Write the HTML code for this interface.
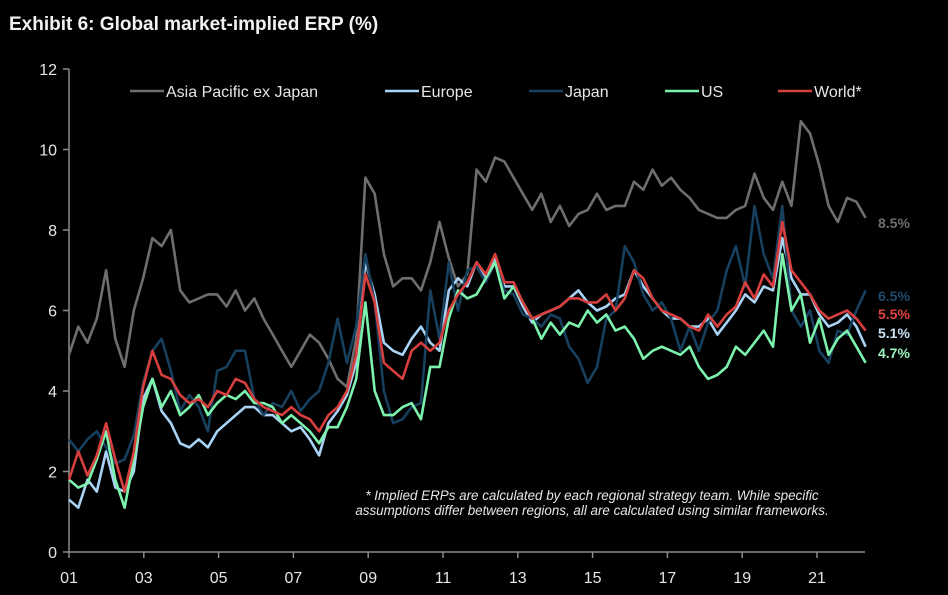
<!DOCTYPE html>
<html><head><meta charset="utf-8"><style>
html,body{margin:0;padding:0;background:#000;}
svg{display:block;font-family:"Liberation Sans",Arial,sans-serif;}
</style></head><body>
<svg id="chart" width="948" height="595" viewBox="0 0 948 595">
<text x="9" y="30" fill="#f2f2f2" font-size="19" font-weight="bold" font-family="'Liberation Sans Narrow','Liberation Sans',sans-serif">Exhibit 6: Global market-implied ERP (%)</text>
<g id="axes"></g>
<g id="lines"></g>
<g id="legend"></g>
<g id="endlabels"></g>
<text x="592" y="500" fill="#e6e6e6" font-size="13.4" font-style="italic" text-anchor="middle">* Implied ERPs are calculated by each regional strategy team. While specific</text>
<text x="592" y="515" fill="#e6e6e6" font-size="13.4" font-style="italic" text-anchor="middle">assumptions differ between regions, all are calculated using similar frameworks.</text>
</svg>
<script>
const yTicks=[0,2,4,6,8,10,12];
const xTickYears=[2001,2003,2005,2007,2009,2011,2013,2015,2017,2019,2021];
const xTickLabels=["01","03","05","07","09","11","13","15","17","19","21"];
const seriesNames=["Asia Pacific ex Japan","Europe","Japan","US","World*"];
const endLabels=["8.5%","5.1%","6.5%","4.7%","5.5%"];
const asiaPac=[4.9,5.6,5.2,5.8,7.0,5.3,4.6,6.0,6.8,7.8,7.6,8.0,6.5,6.2,6.3,6.4,6.4,6.1,6.5,6.0,6.3,5.8,5.4,5.0,4.6,5.0,5.4,5.2,4.8,4.3,4.1,5.3,9.3,8.9,7.4,6.6,6.8,6.8,6.5,7.2,8.2,7.3,6.6,6.9,9.5,9.2,9.8,9.7,9.3,8.9,8.5,8.9,8.2,8.6,8.1,8.4,8.5,8.9,8.5,8.6,8.6,9.2,9.0,9.5,9.1,9.3,9.0,8.8,8.5,8.4,8.3,8.3,8.5,8.6,9.4,8.8,8.5,9.2,8.6,10.7,10.4,9.6,8.6,8.2,8.8,8.7,8.3];
const europe=[1.3,1.1,1.8,1.5,2.5,1.6,1.5,2.0,3.8,4.3,3.5,3.2,2.7,2.6,2.8,2.6,3.0,3.2,3.4,3.6,3.6,3.4,3.4,3.2,3.0,3.1,2.8,2.4,3.2,3.5,3.9,4.7,7.2,6.4,5.2,5.0,4.9,5.3,5.6,5.2,5.0,6.5,6.8,6.6,7.2,6.8,7.3,6.6,6.6,6.1,5.7,5.9,6.0,6.1,6.3,6.5,6.2,6.0,6.1,6.3,6.4,7.0,6.6,6.3,6.0,5.8,5.8,5.6,5.6,5.8,5.4,5.7,6.0,6.4,6.2,6.6,6.5,7.8,6.8,6.4,6.4,5.9,5.6,5.7,5.9,5.6,5.1];
const japan=[2.8,2.5,2.8,3.0,2.6,2.2,2.3,2.9,4.2,5.0,5.3,4.5,3.5,3.9,3.6,3.0,4.5,4.6,5.0,5.0,3.8,3.4,3.7,3.6,4.0,3.5,3.8,4.0,4.7,5.8,4.7,5.6,7.4,6.2,4.0,3.2,3.3,3.6,3.7,6.5,5.3,7.2,6.0,7.0,7.1,6.7,7.2,6.5,6.4,5.9,5.8,5.6,5.9,5.8,5.1,4.8,4.2,4.6,5.8,6.0,7.6,7.2,6.4,6.0,6.2,5.8,5.0,5.6,5.0,5.7,6.0,7.0,7.6,6.6,8.6,7.4,6.8,8.6,6.0,5.6,6.0,5.0,4.7,5.5,5.4,6.0,6.5];
const us=[1.8,1.6,1.7,2.3,3.0,1.8,1.1,2.3,3.6,4.3,3.6,4.0,3.4,3.6,3.9,3.4,3.7,3.9,3.8,4.0,3.7,3.7,3.6,3.2,3.4,3.2,3.0,2.7,3.1,3.1,3.6,4.3,6.2,4.0,3.4,3.4,3.6,3.7,3.3,4.6,4.6,5.8,6.5,6.3,6.4,6.8,7.2,6.3,6.6,6.2,5.8,5.3,5.7,5.4,5.7,5.6,6.0,5.7,5.9,5.5,5.6,5.3,4.8,5.0,5.1,5.0,4.9,5.1,4.6,4.3,4.4,4.6,5.1,4.9,5.2,5.5,5.1,7.4,6.0,6.4,5.2,5.8,4.9,5.3,5.5,5.1,4.7];
const world=[1.8,2.5,1.9,2.4,3.2,2.3,1.5,2.5,4.1,5.0,4.4,4.3,3.9,3.7,3.8,3.6,4.0,3.9,4.3,4.2,3.8,3.6,3.5,3.4,3.6,3.4,3.3,3.0,3.4,3.6,4.0,4.9,6.9,6.2,4.7,4.5,4.3,5.0,5.2,5.0,5.2,6.0,6.4,6.7,7.2,6.9,7.4,6.7,6.7,6.2,5.8,5.9,6.0,6.1,6.3,6.3,6.2,6.2,6.4,6.0,6.3,7.0,6.8,6.3,6.0,5.9,5.8,5.6,5.5,5.9,5.6,5.9,6.1,6.7,6.3,6.9,6.6,8.2,7.0,6.7,6.4,6.0,5.8,5.9,6.0,5.8,5.5];
const startYear=2001, endYear=2022.3;
const dates=[];
for(let i=0;i<87;i++) dates.push(startYear+i*(endYear-startYear)/86);

const NS="http://www.w3.org/2000/svg";
const x=t=>69+(t-2001)*37.4;
const y=v=>552-v*40.25;
function mk(tag,attrs,parent){const e=document.createElementNS(NS,tag);for(const k in attrs)e.setAttribute(k,attrs[k]);parent.appendChild(e);return e;}
const axes=document.getElementById('axes');
const yAxis=mk('line',{x1:69,y1:y(12),x2:69,y2:y(0),stroke:'#8c8c8c','stroke-width':1.5},axes);


const xAxis=mk('line',{x1:69,y1:552,x2:865,y2:552,stroke:'#8c8c8c','stroke-width':1.5},axes);


yTicks.forEach(v=>{
  mk('line',{x1:63,y1:y(v),x2:69,y2:y(v),stroke:'#8c8c8c','stroke-width':1.5},axes);
  const t=mk('text',{x:57,y:y(v)+6,fill:'#e6e6e6','font-size':16,'text-anchor':'end'},axes);
  t.textContent=v;
  
  
});
xTickYears.forEach((yr,i)=>{
  mk('line',{x1:x(yr),y1:552,x2:x(yr),y2:558,stroke:'#8c8c8c','stroke-width':1.5},axes);
  const t=mk('text',{x:x(yr),y:583,fill:'#e6e6e6','font-size':16,'text-anchor':'middle'},axes);
  t.textContent=xTickLabels[i];
  
  
});
const colors=['#6e6e6e','#a8d3f5','#173f5e','#7cf2ad','#d63f3d'];
const data=[asiaPac,europe,japan,us,world];
const lineNames=['line-asia-pacific','line-europe','line-japan','line-us','line-world'];
const lines=document.getElementById('lines');
data.forEach((s,k)=>{
  const d=s.map((v,i)=>(i?'L':'M')+x(dates[i]).toFixed(1)+','+y(v).toFixed(1)).join('');
  const p=mk('path',{d:d,fill:'none',stroke:colors[k],'stroke-width':2.6,'stroke-linejoin':'round'},lines);
  
  
});
const legend=document.getElementById('legend');
const legX=[130,385,529,665,778];
seriesNames.forEach((n,k)=>{
  const g=mk('g',{},legend);
  
  
  mk('line',{x1:legX[k],y1:91,x2:legX[k]+34,y2:91,stroke:colors[k],'stroke-width':2.6},g);
  const t=mk('text',{x:legX[k]+36,y:97,fill:'#e6e6e6','font-size':16},g);
  t.textContent=n;
});
const el=document.getElementById('endlabels');
const labelColors=['#6e6e6e','#c7e1f7','#1f4a6e','#9af5bf','#e0423f'];
const labelY=[228,338,301,358,319];
endLabels.forEach((s,k)=>{
  const t=mk('text',{x:878,y:labelY[k],fill:labelColors[k],'font-size':14,'font-weight':'bold'},el);
  t.textContent=s;
  
  
});
</script>
</body></html>
